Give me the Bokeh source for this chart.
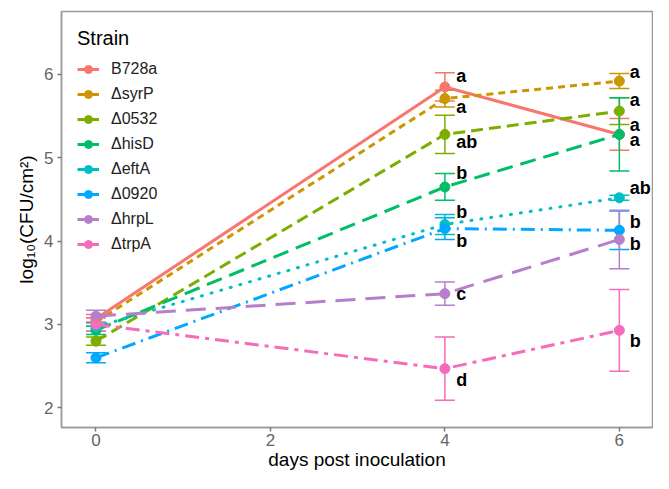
from bokeh.plotting import figure
from bokeh.models import Range1d, Whisker, ColumnDataSource, TeeHead, Legend, LegendItem, FixedTicker
from bokeh.core.properties import value
from bokeh.embed import file_html
from bokeh.resources import INLINE

# ---- data ----
days = [0, 4, 6]
strains = ["B728a", "ΔsyrP", "Δ0532", "ΔhisD", "ΔeftA", "Δ0920", "ΔhrpL", "ΔtrpA"]

mean_B728a = [3.07, 5.85, 5.28]
mean_syrP = [3.03, 5.71, 5.92]
mean_0532 = [2.80, 5.28, 5.56]
mean_hisD = [2.93, 4.65, 5.28]
mean_eftA = [2.97, 4.20, 4.52]
mean_0920 = [2.60, 4.15, 4.13]
mean_hrpL = [3.10, 3.37, 4.02]
mean_trpA = [3.00, 2.47, 2.93]

se_B728a = [0.05, 0.17, 0.19]
se_syrP = [0.05, 0.10, 0.09]
se_0532 = [0.05, 0.23, 0.16]
se_hisD = [0.05, 0.16, 0.44]
se_eftA = [0.05, 0.12, 0.03]
se_0920 = [0.06, 0.13, 0.23]
se_hrpL = [0.07, 0.14, 0.35]
se_trpA = [0.08, 0.38, 0.49]

# significance letters at day 4 and day 6 (order of strains)
letters_d4 = ["a", "a", "ab", "b", "b", "b", "c", "d"]
letters_d4_y = [5.98, 5.61, 5.19, 4.82, 4.35, 4.00, 3.36, 2.33]
letters_d6 = ["a", "a", "a", "a", "ab", "b", "b", "b"]
letters_d6_y = [5.39, 6.03, 5.69, 5.21, 4.64, 4.23, 3.97, 2.80]

x_ticks = [0, 2, 4, 6]
y_ticks = [2, 3, 4, 5, 6]

means = [mean_B728a, mean_syrP, mean_0532, mean_hisD, mean_eftA, mean_0920, mean_hrpL, mean_trpA]
ses = [se_B728a, se_syrP, se_0532, se_hisD, se_eftA, se_0920, se_hrpL, se_trpA]

colors = ["#F8766D", "#CD9600", "#7CAE00", "#00BE67", "#00BFC4", "#00A9FF", "#B77FCB", "#F66BBA"]
dashes = ["solid", "7 5", "12 6", "16 8", "1 9", "14 6 2 6", "20 10", "14 6 4 6"]
caps = ["butt", "butt", "butt", "butt", "round", "butt", "butt", "butt"]

FONT = "Liberation Sans"

p = figure(width=653, height=472, x_range=Range1d(-0.395, 6.38), y_range=Range1d(1.764, 6.755),
           output_backend="svg", toolbar_location=None,
           min_border_left=61, min_border_right=1, min_border_top=11, min_border_bottom=40)

p.xgrid.visible = False
p.ygrid.visible = False
p.outline_line_color = "#9a9a9a"
p.outline_line_width = 1.5

for ax in (p.xaxis[0], p.yaxis[0]):
    ax.axis_line_color = "#9a9a9a"
    ax.axis_line_width = 1.5
    ax.major_tick_line_color = "#7a7a7a"
    ax.major_tick_line_width = 1.5
    ax.major_tick_in = 0
    ax.major_tick_out = 4
    ax.minor_tick_line_color = None
    ax.major_label_text_font = FONT
    ax.major_label_text_font_size = "17px"
    ax.major_label_text_color = "#666666"
    ax.axis_label_text_font = FONT
    ax.axis_label_text_font_size = "19px"
    ax.axis_label_text_font_style = "normal"
    ax.axis_label_text_color = "#000000"

p.xaxis.ticker = FixedTicker(ticks=x_ticks)
p.yaxis.ticker = FixedTicker(ticks=y_ticks)
p.xaxis.axis_label = "days post inoculation"
p.yaxis.axis_label = "log₁₀(CFU/cm²)"
p.xaxis.major_label_standoff = 2
p.xaxis.axis_label_standoff = 0
p.yaxis.major_label_standoff = 4
p.yaxis.axis_label_standoff = 4

nan = float("nan")
legend_items = []
for name, m, s, c, d, cap in zip(strains, means, ses, colors, dashes, caps):
    src = ColumnDataSource(dict(x=days, y=m,
                                lo=[a - b for a, b in zip(m, s)],
                                hi=[a + b for a, b in zip(m, s)]))
    w = Whisker(base="x", upper="hi", lower="lo", source=src, line_color=c, line_width=1.5,
                upper_head=TeeHead(size=20, line_color=c, line_width=1.5),
                lower_head=TeeHead(size=20, line_color=c, line_width=1.5))
    p.add_layout(w)
    p.line("x", "y", source=src, line_color=c, line_width=3, line_dash=d, line_cap=cap)
    p.scatter("x", "y", source=src, size=10, fill_color=c, line_color=c)
    # legend key: short solid line with a point (no visible data)
    lr = p.line(x=[nan], y=[nan], line_color=c, line_width=3)
    sr = p.scatter(x=[nan], y=[nan], size=10, fill_color=c, line_color=c)
    legend_items.append(LegendItem(label=name, renderers=[lr, sr]))

# significance letters
p.text(x=[4.13] * len(letters_d4), y=letters_d4_y, text=letters_d4,
       text_font=value(FONT), text_font_style="bold", text_font_size="18px",
       text_align="left", text_baseline="middle", text_color="black")
p.text(x=[6.12] * len(letters_d6), y=letters_d6_y, text=letters_d6,
       text_font=value(FONT), text_font_style="bold", text_font_size="18px",
       text_align="left", text_baseline="middle", text_color="black")

legend = Legend(items=legend_items, location="top_left", title="Strain")
legend.title_text_font = FONT
legend.title_text_font_size = "20px"
legend.title_text_font_style = "normal"
legend.title_text_color = "black"
legend.title_standoff = 9
legend.label_text_font = FONT
legend.label_text_font_size = "16px"
legend.label_text_color = "#222222"
legend.glyph_width = 22
legend.glyph_height = 20
legend.label_height = 20
legend.spacing = 5
legend.label_standoff = 12
legend.padding = 6
legend.margin = 10
legend.border_line_alpha = 0
legend.background_fill_alpha = 0
p.add_layout(legend)

open("out.html", "w").write(file_html(p, INLINE))
